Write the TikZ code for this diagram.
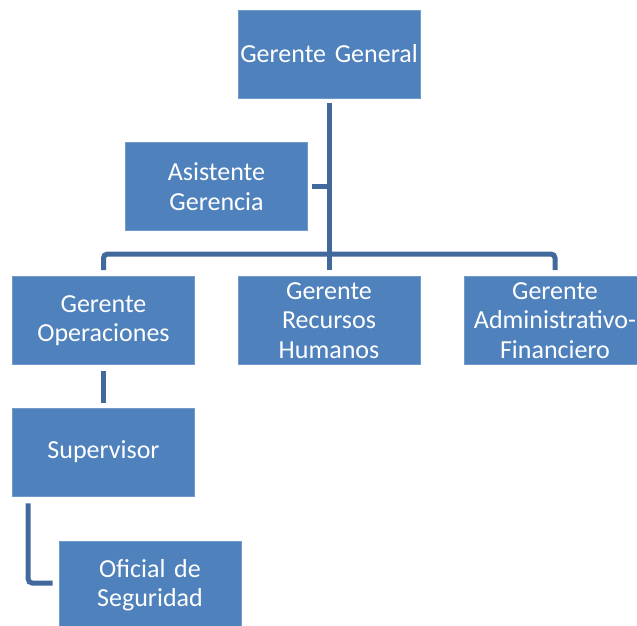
\documentclass[tikz,border=0pt]{standalone}
\usepackage{fontspec}
\setmainfont[WordSpace=0.75]{Carlito}
\definecolor{boxblue}{HTML}{4F81BD}
\definecolor{lineblue}{HTML}{41699B}
\begin{document}
\begin{tikzpicture}[x=1pt,y=-1pt,
  box/.style={rectangle, fill=boxblue, draw=boxblue!80!white, line width=0.6pt,
    minimum width=182pt, minimum height=88pt, inner sep=0pt, text width=182pt,
    align=center, text=white, font=\fontsize{26}{29.5}\selectfont},
  conn/.style={draw=lineblue, line width=5pt}]
\useasboundingbox (0,0) rectangle (637,625);
\clip (0,0) rectangle (637,625);
\node[box] (gg) at (329,54) {Gerente General};
\node[box] (ag) at (216.5,186.5) {Asistente\\Gerencia};
\node[box] (go) at (103.5,320.5) {Gerente\\Operaciones};
\node[box] (grh) at (329,320.5) {Gerente\\Recursos\\Humanos};
\node[box] (gaf) at (555,320.5) {Gerente\\Administrativo-\\Financiero};
\node[box] (sup) at (103.5,452) {Supervisor};
\node[box] (of) at (150,585) {Oficial de\\Seguridad};
\coordinate (bus) at (329,254);
\draw[conn] ([yshift=-5pt]gg.south) -- ([yshift=6pt]grh.north);
\draw[conn] ([xshift=4pt]ag.east) -- (ag.east -| gg.south);
\draw[conn, rounded corners=4pt] ([yshift=6pt]go.north) |- (bus) -| ([yshift=6pt]gaf.north);
\draw[conn] ([yshift=-6pt]go.south) -- ([yshift=5pt]sup.north);
\draw[conn, rounded corners=4pt] ([xshift=16pt,yshift=-7pt]sup.south west) |- ([xshift=-6pt,yshift=2pt]of.west);
\end{tikzpicture}
\end{document}
